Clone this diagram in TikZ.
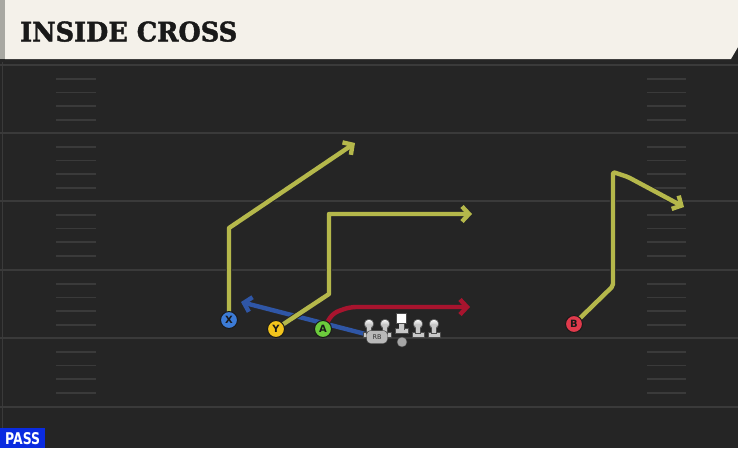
\documentclass[tikz,border=0pt]{standalone}
\usepackage{fontspec}
\usetikzlibrary{arrows.meta}
\newfontfamily\titlefont{DejaVu Serif}[BoldFont={DejaVu Serif Bold}, BoldFeatures={FakeBold=1.6}]
\newfontfamily\labfont{DejaVu Sans}
\definecolor{fieldbg}{HTML}{252525}
\definecolor{fieldline}{HTML}{3A3A3A}
\definecolor{barbg}{HTML}{F4F1EA}
\definecolor{baredge}{HTML}{A8A8A2}
\definecolor{routey}{HTML}{B5B84B}
\definecolor{router}{HTML}{A8142E}
\definecolor{routeb}{HTML}{2F56A6}
\definecolor{px}{HTML}{3C7BD6}
\definecolor{py}{HTML}{F2C41C}
\definecolor{pa}{HTML}{6CCB3C}
\definecolor{pb}{HTML}{E03A4C}
\definecolor{passblue}{HTML}{0A2BE0}
\definecolor{olgray}{HTML}{C8C8C8}
\pgfdeclarelayer{fieldlayer}
\pgfdeclarelayer{routelayer}
\pgfsetlayers{fieldlayer,routelayer,main}
\tikzset{
  fline/.style={draw=fieldline, line width=2pt},
  hashmark/.style={draw=fieldline, line width=1.8pt},
  player/.style={circle, draw=black!90, line width=1pt, minimum size=17pt, inner sep=0pt,
     font=\labfont\bfseries\fontsize{10}{10}\selectfont, text=black!90},
  routeout/.style={draw=black!85, line width=6.4pt, line join=round,
     -{Straight Barb[length=7pt,width=15pt]}},
  routein/.style={line width=4.4pt, line join=round,
     -{Straight Barb[length=7pt,width=15pt]}},
  lineman/.style={fill=olgray, draw=black!70, line width=0.6pt},
}
\begin{document}
\begin{tikzpicture}[x=1pt,y=-1pt]
\useasboundingbox (0,0) rectangle (738,448);
\begin{pgfonlayer}{fieldlayer}
\fill[fieldbg] (0,0) rectangle (738,448);
\fill[black!85] (0,58) rectangle (738,62);
\draw[fieldline, line width=1pt] (2,62) -- (2,448);
\foreach \yy in {65,133,201,270,338,407} {\draw[fline] (0,\yy) -- (738,\yy);}
\foreach \yy in {65,133,201,270,338} {
  \foreach \k in {1,2,3,4} {
    \draw[hashmark] (56,\yy+\k*13.7) -- (96,\yy+\k*13.7);
    \draw[hashmark] (647,\yy+\k*13.7) -- (686,\yy+\k*13.7);
  }
}
\fill[barbg] (5,0) -- (738,0) -- (738,47) -- (731,59) -- (5,59) -- cycle;
\fill[baredge] (0,0) rectangle (5,59);
\fill[passblue] (0,428) rectangle (45,448);
\end{pgfonlayer}
\node[anchor=south west, inner sep=0pt, text=black!90] (title) at (20,42)
  {\resizebox{217pt}{20pt}{\titlefont\bfseries INSIDE CROSS}};
\node[anchor=south west, inner sep=0pt, text=white] (pass) at (5,445)
  {\resizebox{35pt}{12pt}{\labfont\bfseries PASS}};

% linemen
\foreach \lx in {369,385,418,434} {
  \filldraw[lineman] (\lx-6,332) rectangle (\lx+6,337);
  \filldraw[lineman] (\lx-2.5,324) rectangle (\lx+2.5,333);
  \shade[top color=white, bottom color=gray!80, draw=black!70, line width=0.6pt] (\lx,324) circle (4.8pt);
  \fill[olgray] (\lx-1.9,324) rectangle (\lx+1.9,333.2);
}
\filldraw[lineman] (395,328) rectangle (408,333);
\filldraw[lineman] (399,322) rectangle (404,329);
\fill[olgray] (399.4,321) rectangle (403.6,329.5);
\node[draw=black!70, fill=white, minimum size=10pt, inner sep=0pt] (C) at (401.5,318) {};
\node[circle, fill=gray!70, draw=black!70, minimum size=10pt, inner sep=0pt] (QB) at (402,342) {};
\node[draw=black!80, fill=gray!55, rounded corners=4pt, minimum width=21pt, minimum height=13pt,
  inner sep=0pt, font=\labfont\fontsize{6.5}{6.5}\selectfont, text=black!80] (RB) at (377,337) {RB};

% skill players
\node[player, fill=px] (X) at (229,320) {X};
\node[player, fill=py] (Y) at (276,329) {Y};
\node[player, fill=pa] (A) at (323,329) {A};
\node[player, fill=pb] (B) at (574,324) {B};

% route points
\coordinate (x1) at (229,228); \coordinate (xt) at (355,143);
\coordinate (y1) at (329,294); \coordinate (y2) at (329,214); \coordinate (yt) at (472,214);
\coordinate (a1) at (333,313); \coordinate (a2) at (350,307); \coordinate (at) at (470,307);
\coordinate (bt) at (241,302);
\coordinate (b1) at (613,286); \coordinate (b2) at (613,172); \coordinate (b3) at (628,177); \coordinate (btip) at (684,207);

\begin{pgfonlayer}{routelayer}
\draw[routeout] (X.center) -- (x1) -- (xt);
\draw[routein, routey] (X.center) -- (x1) -- (xt);
\draw[routeout] (RB.center) -- (bt);
\draw[routein, routeb] (RB.center) -- (bt);
\draw[routeout] (Y.center) -- (y1) -- (y2) -- (yt);
\draw[routein, routey] (Y.center) -- (y1) -- (y2) -- (yt);
\draw[routeout, rounded corners=6pt] (A.center) -- (a1) -- (a2) -- (at);
\draw[routein, router, rounded corners=6pt] (A.center) -- (a1) -- (a2) -- (at);
\draw[routeout, rounded corners=2pt] (B.center) -- (b1) -- (b2) -- (b3) -- (btip);
\draw[routein, routey, rounded corners=2pt] (B.center) -- (b1) -- (b2) -- (b3) -- (btip);
\end{pgfonlayer}
\end{tikzpicture}
\end{document}
